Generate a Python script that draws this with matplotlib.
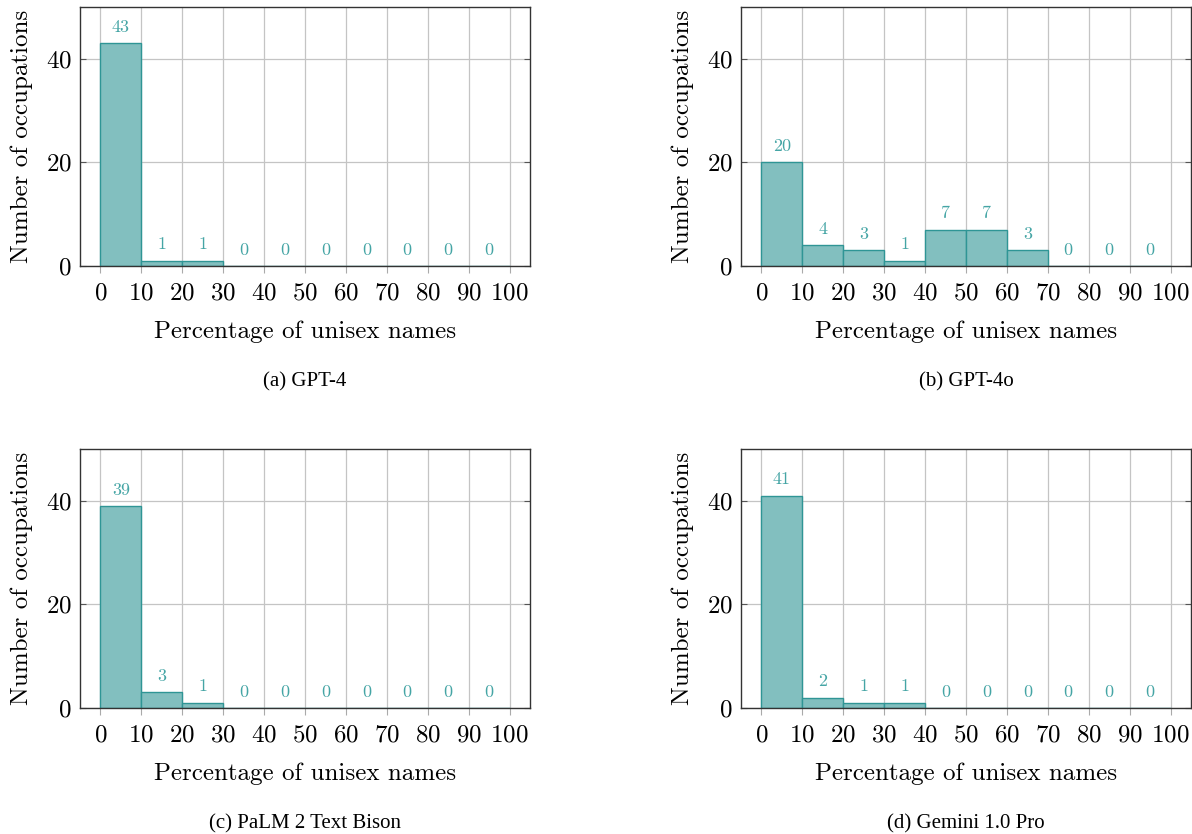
import numpy as np
import matplotlib.pyplot as plt

# histogram bins (percentage of unisex names)
bins = [0, 10, 20, 30, 40, 50, 60, 70, 80, 90]
gpt4 = [43, 1, 1, 0, 0, 0, 0, 0, 0, 0]
gpt4o = [20, 4, 3, 1, 7, 7, 3, 0, 0, 0]
palm = [39, 3, 1, 0, 0, 0, 0, 0, 0, 0]
gemini = [41, 2, 1, 1, 0, 0, 0, 0, 0, 0]
captions = ['(a) GPT-4', '(b) GPT-4o', '(c) PaLM 2 Text Bison', '(d) Gemini 1.0 Pro']
series = [gpt4, gpt4o, palm, gemini]

plt.rcParams['font.family'] = 'cmr10'
plt.rcParams['axes.formatter.use_mathtext'] = True

fill = '#82bfbf'
edge = '#2f9595'
txt = '#45a5a5'

W, H = 1192, 834
fig = plt.figure(figsize=(W / 100, H / 100), dpi=100)

# axes boxes in pixels: left, top
lefts = [80, 741, 80, 741]
tops = [7, 7, 449, 449]
aw, ah = 450, 259

for i in range(4):
    ax = fig.add_axes([lefts[i] / W, 1 - (tops[i] + ah) / H, aw / W, ah / H])
    vals = series[i]
    ax.bar(bins, vals, width=10, align='edge', color=fill, edgecolor=edge, linewidth=1.0, zorder=2)
    for b, v in zip(bins, vals):
        ax.annotate(str(v), (b + 5, v), xytext=(0, 6), textcoords='offset points',
                    ha='center', va='bottom', color=txt, fontsize=13)
    ax.set_xlim(-5, 105)
    ax.set_ylim(0, 50)
    ax.set_xticks(range(0, 101, 10))
    ax.set_yticks([0, 20, 40])
    ax.set_axisbelow(True)
    ax.grid(True, color='#c4c4c4', linewidth=0.9)
    ax.tick_params(axis='y', direction='in', length=4, right=True, color='#555555', labelsize=18, pad=6)
    ax.tick_params(axis='x', direction='out', length=5, color='#aaaaaa', labelsize=18, pad=7)
    for s in ax.spines.values():
        s.set_color('#333333')
        s.set_linewidth(1.0)
    ax.set_xlabel('Percentage of unisex names', fontsize=18, labelpad=11)
    ax.set_ylabel('Number of occupations', fontsize=18, labelpad=9)
    fig.text((lefts[i] + aw / 2) / W, 1 - (tops[i] + 375) / H, captions[i],
             ha='center', va='center', fontsize=15, family='Liberation Serif')

fig.savefig('out.png', dpi=100)
